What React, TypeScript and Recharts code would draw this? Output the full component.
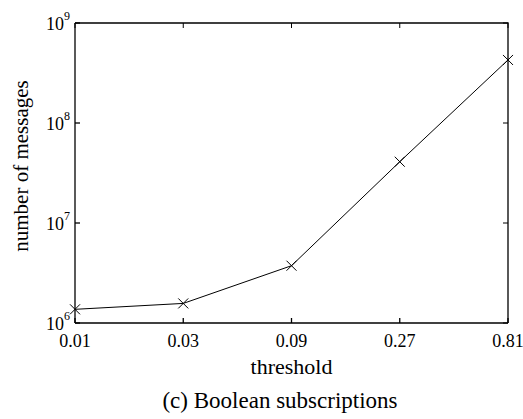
import React from 'react';
import { LineChart, Line, XAxis, YAxis } from 'recharts';

const thresholds = ['0.01', '0.03', '0.09', '0.27', '0.81'];
const messages = [1.37e6, 1.57e6, 3.74e6, 4.1e7, 4.27e8];
const yTicks = [1e6, 1e7, 1e8, 1e9];
const yExponents = ['6', '7', '8', '9'];

const data = thresholds.map((t, i) => ({ threshold: t, messages: messages[i] }));

const FONT = '"Liberation Serif", "Times New Roman", serif';
const CHART_W = 523;
const CHART_H = 419;
const MARGIN = { top: 23, right: 15, bottom: 0, left: 0 };
const PLOT_TOP = MARGIN.top;
const TICK = 5;

const YTick = (props: any) => {
  const { x, y, payload } = props;
  const idx = yTicks.indexOf(payload.value);
  const exp = idx >= 0 ? yExponents[idx] : '';
  return (
    <text x={x} y={y} dy={7} textAnchor="end" fontFamily={FONT} fontSize={18} fill="#000">
      <tspan>10</tspan>
      <tspan dy={-10} fontSize={12}>{exp}</tspan>
    </text>
  );
};

const CrossDot = (props: any) => {
  const { cx, cy, index } = props;
  if (cx == null || cy == null) return null;
  const s = 5;
  return (
    <g key={`dot-${index}`}>
      <line x1={cx - s} y1={cy - s} x2={cx + s} y2={cy + s} stroke="#000" strokeWidth={1} />
      <line x1={cx - s} y1={cy + s} x2={cx + s} y2={cy - s} stroke="#000" strokeWidth={1} />
    </g>
  );
};

// Bottom axis label: draws "threshold", the caption, and the top/right frame with inward ticks
const XLabel = (props: any) => {
  const vb = props.viewBox || {};
  const left = vb.x;
  const right = vb.x + vb.width;
  const bottom = vb.y;
  const top = PLOT_TOP;
  const cx = left + vb.width / 2;
  const n = thresholds.length;
  const xs = thresholds.map((_, i) => left + (i * vb.width) / (n - 1));
  const decades = yTicks.length - 1;
  const ys = yTicks.map((_, i) => bottom - (i * (bottom - top)) / decades);
  return (
    <g>
      <path d={`M${left},${top}H${right}V${bottom}`} fill="none" stroke="#000" strokeWidth={1.3} />
      {xs.map((x, i) => (
        <line key={`tt-${i}`} x1={x} y1={top} x2={x} y2={top + TICK} stroke="#000" strokeWidth={1} />
      ))}
      {ys.map((y, i) => (
        <line key={`rt-${i}`} x1={right - TICK} y1={y} x2={right} y2={y} stroke="#000" strokeWidth={1} />
      ))}
      <text x={cx} y={bottom + 51} textAnchor="middle" fontFamily={FONT} fontSize={22} fill="#000">
        threshold
      </text>
      <text x={280} y={bottom + 85} textAnchor="middle" fontFamily={FONT} fontSize={23} fill="#000">
        (c) Boolean subscriptions
      </text>
    </g>
  );
};

const YLabel = () => {
  const bx = 28;
  const cy = 166;
  return (
    <text
      x={bx}
      y={cy}
      textAnchor="middle"
      transform={`rotate(-90, ${bx}, ${cy})`}
      fontFamily={FONT}
      fontSize={21}
      fill="#000"
    >
      number of messages
    </text>
  );
};

export default function App() {
  return (
    <div style={{ position: 'absolute', left: 0, top: 0, width: CHART_W, height: CHART_H, background: '#fff' }}>
      <LineChart width={CHART_W} height={CHART_H} data={data} margin={MARGIN}>
        <XAxis
          dataKey="threshold"
          orientation="bottom"
          height={96}
          stroke="#000"
          strokeWidth={1.3}
          tickSize={-TICK}
          tickMargin={16}
          tick={{ fontFamily: FONT, fontSize: 18, fill: '#000' }}
          interval={0}
          label={<XLabel />}
        />
        <YAxis
          type="number"
          scale="log"
          domain={[1e6, 1e9]}
          allowDataOverflow
          ticks={yTicks}
          width={75}
          stroke="#000"
          strokeWidth={1.3}
          tickSize={-TICK}
          tickMargin={10}
          tick={<YTick />}
          interval={0}
          label={<YLabel />}
        />
        <Line
          dataKey="messages"
          stroke="#000"
          strokeWidth={1}
          dot={<CrossDot />}
          activeDot={false}
          isAnimationActive={false}
        />
      </LineChart>
    </div>
  );
}
